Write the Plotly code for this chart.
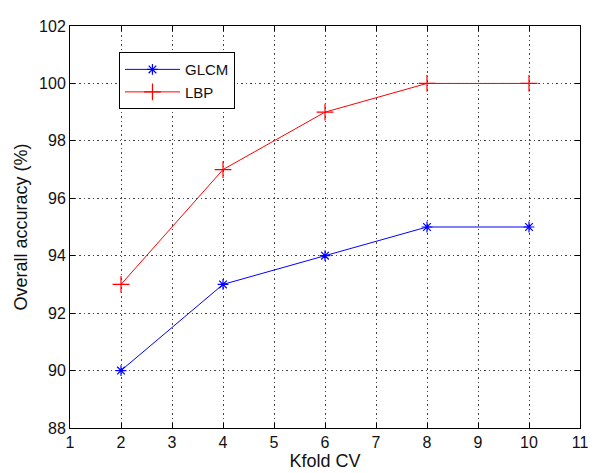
import plotly.graph_objects as go

kfold = [2, 4, 6, 8, 10]
glcm = [90, 93, 94, 95, 95]
lbp = [93, 97, 99, 100, 100]
x_ticks = list(range(1, 12))
y_ticks = list(range(88, 103, 2))

fig = go.Figure()
fig.add_trace(go.Scatter(x=kfold, y=glcm, mode="lines+markers", name="GLCM",
                         line=dict(color="#0000ff", width=1),
                         marker=dict(symbol="asterisk-open", size=9, color="#0000ff",
                                     line=dict(color="#0000ff", width=1.2))))
fig.add_trace(go.Scatter(x=kfold, y=lbp, mode="lines+markers", name="LBP",
                         line=dict(color="#ff0000", width=1),
                         marker=dict(symbol="cross-thin-open", size=12, color="#ff0000",
                                     line=dict(color="#ff0000", width=1.2))))

axis_common = dict(showline=True, linecolor="black", linewidth=1, mirror="allticks",
                   ticks="inside", ticklen=5, tickcolor="black",
                   showgrid=True, gridcolor="#444444", griddash="1.5px,3px", gridwidth=1,
                   zeroline=False, tickfont=dict(size=16, color="#111111"))

fig.update_xaxes(range=[1, 11], tickvals=x_ticks,
                 title=dict(text="Kfold CV", font=dict(size=18, color="#111111"), standoff=2),
                 **axis_common)
fig.update_yaxes(range=[88, 102], tickvals=y_ticks,
                 title=dict(text="Overall accuracy (%)", font=dict(size=18, color="#111111"), standoff=6),
                 **axis_common)

fig.update_layout(
    width=601, height=473,
    margin=dict(l=62, r=29, t=10, b=53),
    paper_bgcolor="white", plot_bgcolor="white",
    font=dict(family="Liberation Sans, Arial, sans-serif", color="black"),
    showlegend=True,
    legend=dict(x=0.096, y=0.935, xanchor="left", yanchor="top",
                bgcolor="white", bordercolor="black", borderwidth=1,
                font=dict(size=15, color="#111111"), tracegroupgap=0,
                itemwidth=55),
)

fig.write_html("out.html")
